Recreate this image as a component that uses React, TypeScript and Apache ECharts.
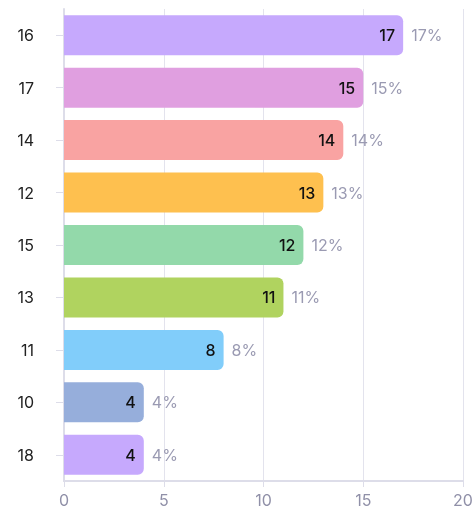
import React, { useEffect, useRef } from "react";
import * as echarts from "echarts";

const categories = ["16", "17", "14", "12", "15", "13", "11", "10", "18"];
const values = [17, 15, 14, 13, 12, 11, 8, 4, 4];
const percents = ["17%", "15%", "14%", "13%", "12%", "11%", "8%", "4%", "4%"];
const colors = ["#c6a9fd", "#e09fe0", "#f9a3a2", "#fec04f", "#93d9aa", "#b0d35f", "#81cdfa", "#96aedb", "#c6a9fd"];
const xTicks = { min: 0, max: 20, interval: 5 };

const FONT = "Inter, 'Noto Sans', sans-serif";

export default function App() {
  const ref = useRef<HTMLDivElement>(null);
  useEffect(() => {
    if (!ref.current) return;
    const chart = echarts.init(ref.current, undefined, { renderer: "svg" });
    chart.setOption({
      animation: false,
      textStyle: { fontFamily: FONT },
      grid: { left: 64, right: 13, top: 9, bottom: 33, containLabel: false },
      xAxis: {
        type: "value",
        min: xTicks.min,
        max: xTicks.max,
        interval: xTicks.interval,
        axisLine: { show: true, lineStyle: { color: "#dddde9", width: 2 } },
        axisTick: { show: true, length: 6, lineStyle: { color: "#dddde9", width: 1 } },
        splitLine: { show: true, lineStyle: { color: "#e3e3ed", width: 1 } },
        axisLabel: { color: "#9090a8", fontSize: 16, margin: 11, fontFamily: FONT },
      },
      yAxis: {
        type: "category",
        inverse: true,
        data: categories,
        axisLine: { show: true, lineStyle: { color: "#dddde9", width: 2 } },
        axisTick: { show: true, alignWithLabel: true, length: 8, lineStyle: { color: "#dddde9" } },
        axisLabel: { color: "#222", fontSize: 16, margin: 30, fontFamily: FONT },
      },
      series: [
        {
          type: "bar",
          barWidth: 40,
          silent: true,
          data: values.map((v, i) => ({
            value: v,
            itemStyle: { color: colors[i], borderRadius: [0, 6, 6, 0] },
          })),
          label: {
            show: true,
            position: "insideRight",
            distance: 8,
            color: "#111",
            fontSize: 16,
            fontWeight: 500,
            fontFamily: FONT,
          },
          z: 2,
        },
        {
          type: "bar",
          barWidth: 40,
          barGap: "-100%",
          silent: true,
          data: values,
          itemStyle: { color: "rgba(0,0,0,0)" },
          label: {
            show: true,
            position: "right",
            distance: 8,
            color: "#9a9ab2",
            fontSize: 16,
            fontFamily: FONT,
            formatter: (p: any) => percents[p.dataIndex],
          },
          z: 3,
        },
      ],
    });
    return () => chart.dispose();
  }, []);
  return <div ref={ref} style={{ position: "fixed", left: 0, top: 0, width: 476, height: 514 }} />;
}
